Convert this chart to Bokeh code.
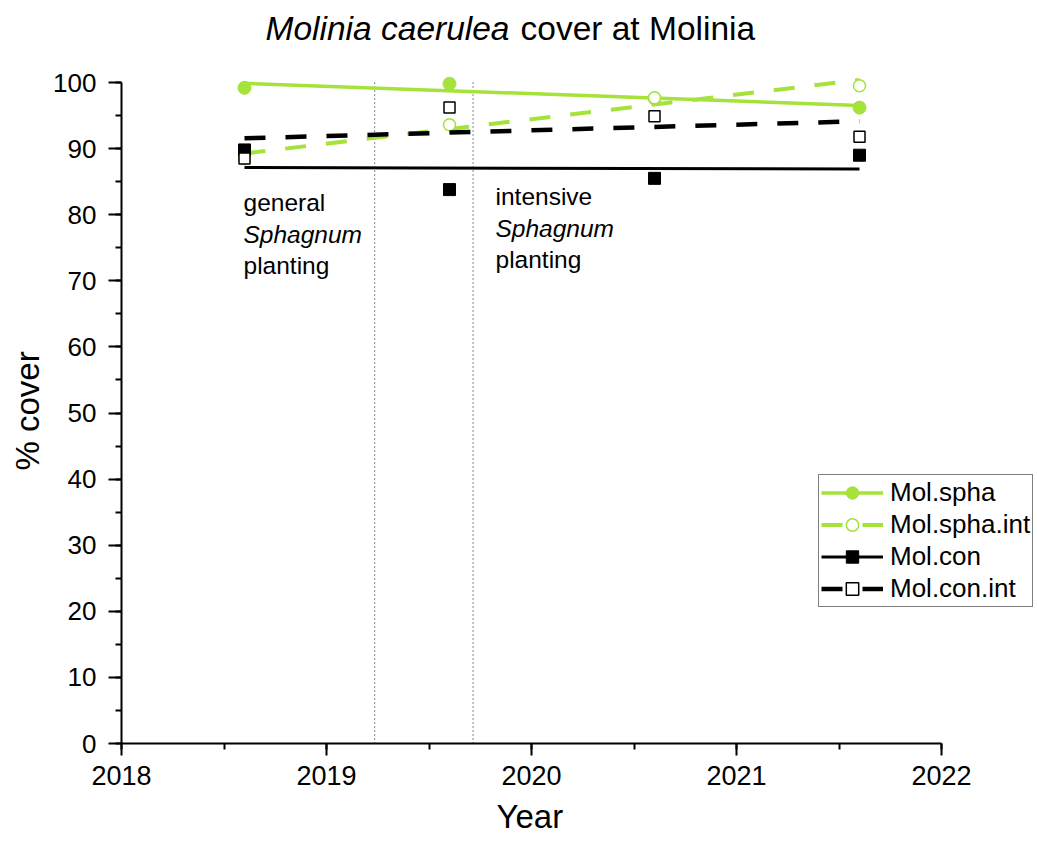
import numpy as np
from bokeh.plotting import figure
from bokeh.models import (Label, Legend, LegendItem, SingleIntervalTicker, Range1d, Title)
from bokeh.embed import file_html
from bokeh.resources import INLINE

# ---------------- data ----------------
years = [2018.6, 2019.6, 2020.6, 2021.6]
mol_spha = [99.2, 99.8, 97.6, 96.2]
mol_spha_int = [88.5, 93.6, 97.7, 99.5]
mol_con = [89.8, 83.8, 85.5, 89.0]
mol_con_int = [88.5, 96.2, 94.9, 91.8]
series_names = ["Mol.spha", "Mol.spha.int", "Mol.con", "Mol.con.int"]
planting_years = [2019.235, 2019.715]
x_axis_span = (2018, 2022)
y_axis_span = (0, 100)

GREEN = "#a5e23a"
FONT = "Liberation Sans"

W, H = 1037, 844
LEFT, BOTTOM = 121, 743          # frame left / bottom in page pixels
PX_PER_YEAR, PX_PER_UNIT = 205.0, 6.61

p = figure(width=W, height=H,
           x_range=Range1d(2018, 2018 + (W - LEFT) / PX_PER_YEAR),
           y_range=Range1d(0, BOTTOM / PX_PER_UNIT),
           output_backend="svg", toolbar_location=None,
           min_border_left=LEFT, min_border_right=0,
           min_border_top=0, min_border_bottom=H - BOTTOM)
p.outline_line_color = None
p.grid.visible = False
p.background_fill_color = "white"
p.border_fill_color = "white"

# axes
p.xaxis.ticker = SingleIntervalTicker(interval=1, num_minor_ticks=2)
p.yaxis.ticker = SingleIntervalTicker(interval=10, num_minor_ticks=2)
p.xaxis.bounds = x_axis_span
p.yaxis.bounds = y_axis_span
for ax in (p.xaxis[0], p.yaxis[0]):
    ax.axis_line_width = 2
    ax.axis_line_color = "black"
    ax.major_tick_line_width = 2
    ax.minor_tick_line_width = 2
    ax.major_tick_line_color = "black"
    ax.minor_tick_line_color = "black"
    ax.major_tick_in = 0
    ax.minor_tick_in = 0
    ax.minor_tick_out = 6
    ax.major_label_text_font = FONT
    ax.major_label_text_color = "black"
p.xaxis.major_tick_out = 12
p.yaxis.major_tick_out = 13
p.xaxis.major_label_text_font_size = "27px"
p.yaxis.major_label_text_font_size = "26px"
p.xaxis.major_label_standoff = 10
p.yaxis.major_label_standoff = 12

# axis titles placed as side titles so they can be offset like the reference
year_title = Title(text="Year", align="left", offset=375, standoff=16,
                   text_font=FONT, text_font_size="33px", text_font_style="normal",
                   text_color="black")
p.add_layout(year_title, "below")
cover_title = Title(text="% cover", align="left", offset=273, standoff=10,
                    text_font=FONT, text_font_size="33px", text_font_style="normal",
                    text_color="black")
p.add_layout(cover_title, "left")

# planting markers
p.segment(x0=planting_years, y0=[0, 0], x1=planting_years, y1=[100, 100],
          line_color="#111111", line_width=1, line_dash="1 3")

def fit(xs, ys):
    k, b = np.polyfit(xs, ys, 1)
    return [xs[0], xs[-1]], [k * xs[0] + b, k * xs[-1] + b]

styles = [
    dict(data=mol_spha, color=GREEN, lw=3.5, dash="solid", marker="circle", size=13, fill=GREEN, mlw=1),
    dict(data=mol_spha_int, color=GREEN, lw=4, dash="21 20", marker="circle", size=12, fill="white", mlw=1.5),
    dict(data=mol_con, color="black", lw=3, dash="solid", marker="square", size=12, fill="black", mlw=1),
    dict(data=mol_con_int, color="black", lw=4.5, dash="21 20", marker="square", size=11, fill="white", mlw=1.5),
]

items = []
for name, st in zip(series_names, styles):
    fx, fy = fit(years, st["data"])
    lr = p.line(fx, fy, line_color=st["color"], line_width=st["lw"], line_dash=st["dash"])
    sr = p.scatter(years, st["data"], marker=st["marker"], size=st["size"],
                   fill_color=st["fill"], line_color=st["color"], line_width=st["mlw"])
    items.append(LegendItem(label=name, renderers=[lr, sr]))

legend = Legend(items=items, location=(697, 136))
legend.label_text_font = FONT
legend.label_text_font_size = "26px"
legend.label_text_color = "black"
legend.glyph_width = 62
legend.glyph_height = 31
legend.label_height = 31
legend.label_standoff = 7
legend.spacing = 1
legend.padding = 2
legend.margin = 0
legend.border_line_color = "black"
legend.border_line_width = 1
legend.background_fill_color = "white"
legend.background_fill_alpha = 1
p.add_layout(legend)

def px2x(px):
    return 2018 + (px - LEFT) / PX_PER_YEAR

def px2y(py):
    return (BOTTOM - py) / PX_PER_UNIT

# title (mixed italic / normal)
p.add_layout(Label(x=px2x(509), y=px2y(28), text="Molinia caerulea", text_font=FONT,
                   text_font_size="33.5px", text_font_style="italic",
                   text_align="right", text_baseline="middle", text_color="black"))
p.add_layout(Label(x=px2x(520), y=px2y(28), text="cover at Molinia", text_font=FONT,
                   text_font_size="33.5px", text_font_style="normal",
                   text_align="left", text_baseline="middle", text_color="black"))

# annotations
ann = [
    (243, [202, 234, 265], ["general", "Sphagnum", "planting"]),
    (495, [196, 228, 259], ["intensive", "Sphagnum", "planting"]),
]
for xpx, ys, texts in ann:
    for ypx, t in zip(ys, texts):
        p.add_layout(Label(x=px2x(xpx), y=px2y(ypx), text=t, text_font=FONT,
                           text_font_size="24.5px",
                           text_font_style="italic" if t == "Sphagnum" else "normal",
                           text_align="left", text_baseline="alphabetic", text_color="black"))

open("out.html", "w").write(file_html(p, INLINE))
